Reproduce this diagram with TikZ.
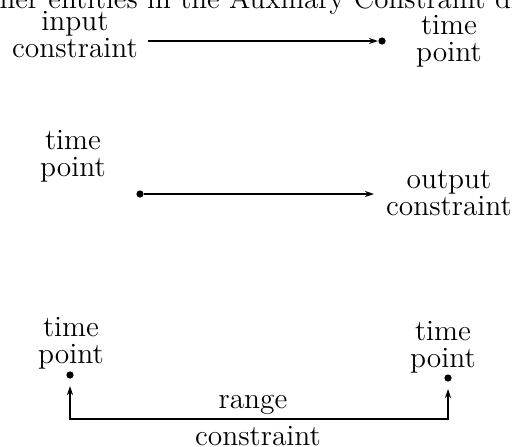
\documentclass[tikz,border=0pt]{standalone}
\usetikzlibrary{arrows.meta}
\begin{document}
\begin{tikzpicture}[x=0.5pt,y=-0.5pt,
  lbl/.style={align=center,inner sep=0pt,anchor=base,font=\fontsize{14.7}{13.4}\selectfont},
  dot/.style={circle,fill=black,inner sep=0pt,minimum size=3.6pt},
  conn/.style={line width=0.7pt,-{Stealth[length=4.5pt,width=3pt]}},
  conn2/.style={line width=0.7pt,{Stealth[length=4.5pt,width=3pt]}-{Stealth[length=4.5pt,width=3pt]},shorten <=3.5pt,shorten >=3.5pt},
]
\useasboundingbox (0,0) rectangle (512,446);
\begin{scope}
\clip (0,0) rectangle (512,446);
\node[anchor=base west,inner sep=0pt,font=\fontsize{14.5}{15}\selectfont] (title) at (-34,8) {Other entities in the Auxiliary Constraint diagram};
\end{scope}
% labels (anchored at the baseline of the last line)
\node[lbl] (in) at (75,57) {input\\constraint};
\node[lbl] (tp1) at (449,61) {time\\point};
\node[lbl] (tp2) at (73,176) {time\\point};
\node[lbl] (out) at (449,215) {output\\constraint};
\node[lbl] (tp3) at (71,363) {time\\point};
\node[lbl] (tp4) at (443,367) {time\\point};
\node[lbl] (rng) at (253,408) {range};
\node[lbl] (rcon) at (258,445) {constraint};
% dots
\node[dot] (d1) at (382,41) {};
\node[dot] (d2) at (140,194) {};
\node[dot] (d3) at (70,375) {};
\node[dot] (d4) at (448,378) {};
% connectors
\coordinate (a1) at (148,41);
\coordinate (a2) at (374,194);
\coordinate (c3) at (70,419);
\coordinate (c4) at (448,419);
\draw[conn] (a1) -- (d1);
\draw[conn] (d2) -- (a2);
\draw[conn2] (d3) -- (c3) -- (c4) -- (d4);
\end{tikzpicture}
\end{document}
